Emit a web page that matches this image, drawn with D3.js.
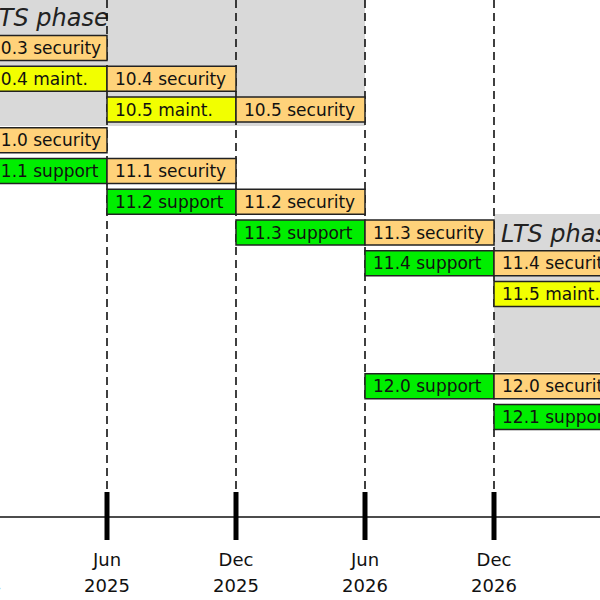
<!DOCTYPE html>
<html><head><meta charset="utf-8">
<script src="https://cdn.jsdelivr.net/npm/d3@7"></script>
<style>body{margin:0}svg{display:block}</style>
</head><body>
<script>
// months counted from Dec 2024
var tickMonths = ["Dec", "Jun", "Dec", "Jun", "Dec"];
var tickYears = ["2024", "2025", "2025", "2026", "2026"];
var tickAt = [0, 6, 12, 18, 24];

// [row, label, kind, startMonth, endMonth]
var bars = [
  [0, "10.3 security", "security", -6, 6],
  [1, "10.4 maint.", "maint", -6, 6],
  [1, "10.4 security", "security", 6, 12],
  [2, "10.5 maint.", "maint", 6, 12],
  [2, "10.5 security", "security", 12, 18],
  [3, "11.0 security", "security", -6, 6],
  [4, "11.1 support", "support", -6, 6],
  [4, "11.1 security", "security", 6, 12],
  [5, "11.2 support", "support", 6, 12],
  [5, "11.2 security", "security", 12, 18],
  [6, "11.3 support", "support", 12, 18],
  [6, "11.3 security", "security", 18, 24],
  [7, "11.4 support", "support", 18, 24],
  [7, "11.4 security", "security", 24, 30],
  [8, "11.5 maint.", "maint", 24, 30],
  [11, "12.0 support", "support", 18, 24],
  [11, "12.0 security", "security", 24, 30],
  [12, "12.1 support", "support", 24, 30]
];
// LTS shaded zones: [startMonth, endMonth, firstRow, lastRow, labelRow, labelX]
var lts = [
  [-12, 18, -1, 2, -1, -13],
  [24, 36, 6, 10, 6, 501]
];
var colors = {security: "#ffd27a", maint: "#f2ff00", support: "#00ee00"};

var W = 600, H = 600;
var x = d3.scaleLinear().domain([0, 6]).range([-22, 107]);
var y = d3.scaleLinear().domain([0, 12]).range([48, 417]);
var bh = 25, axisY = 517;

var svg = d3.select("body").append("svg").attr("width", W).attr("height", H)
  .style("font-family", "Verdana, 'DejaVu Sans', sans-serif");

lts.forEach(function(l) {
  var top = l[2] < 0 ? 0 : y(l[2]) - bh / 2 - 6;
  svg.append("rect").attr("x", x(l[0])).attr("y", top)
    .attr("width", x(l[1]) - x(l[0])).attr("height", y(l[3]) + bh / 2 + 4 - top)
    .attr("fill", "#d9d9d9");
});
lts.forEach(function(l) {
  svg.append("text").attr("x", l[5]).attr("y", l[4] < 0 ? 26 : y(l[4]) + 9)
    .attr("font-size", 24).attr("font-style", "italic").attr("fill", "#222").text("LTS phase");
});

tickAt.forEach(function(m) {
  svg.append("line").attr("x1", x(m)).attr("x2", x(m)).attr("y1", 0).attr("y2", axisY)
    .attr("stroke", "#111").attr("stroke-width", 1.6).attr("stroke-dasharray", "8,5");
});

var g = svg.selectAll("g.bar").data(bars).enter().append("g");
g.append("rect").attr("x", function(d) { return x(d[3]); })
  .attr("y", function(d) { return y(d[0]) - bh / 2; })
  .attr("width", function(d) { return x(d[4]) - x(d[3]); }).attr("height", bh)
  .attr("fill", function(d) { return colors[d[2]]; })
  .attr("stroke", "#222").attr("stroke-width", 1.5);
g.append("text")
  .attr("x", function(d) { return d[3] < 0 ? -10 : x(d[3]) + 8; })
  .attr("y", function(d) { return y(d[0]) + 6; })
  .attr("font-size", 17).attr("fill", "#111")
  .text(function(d) { return d[1]; });

svg.append("line").attr("x1", 0).attr("x2", W).attr("y1", axisY).attr("y2", axisY)
  .attr("stroke", "#111").attr("stroke-width", 1.5);
tickAt.forEach(function(m, i) {
  svg.append("line").attr("x1", x(m)).attr("x2", x(m)).attr("y1", axisY - 25).attr("y2", axisY + 23)
    .attr("stroke", "#000").attr("stroke-width", 5);
  svg.append("text").attr("x", x(m)).attr("y", 566).attr("text-anchor", "middle")
    .attr("font-size", 18).attr("fill", "#111").text(tickMonths[i]);
  svg.append("text").attr("x", x(m)).attr("y", 592).attr("text-anchor", "middle")
    .attr("font-size", 18).attr("fill", "#111").text(tickYears[i]);
});
</script>
</body></html>
